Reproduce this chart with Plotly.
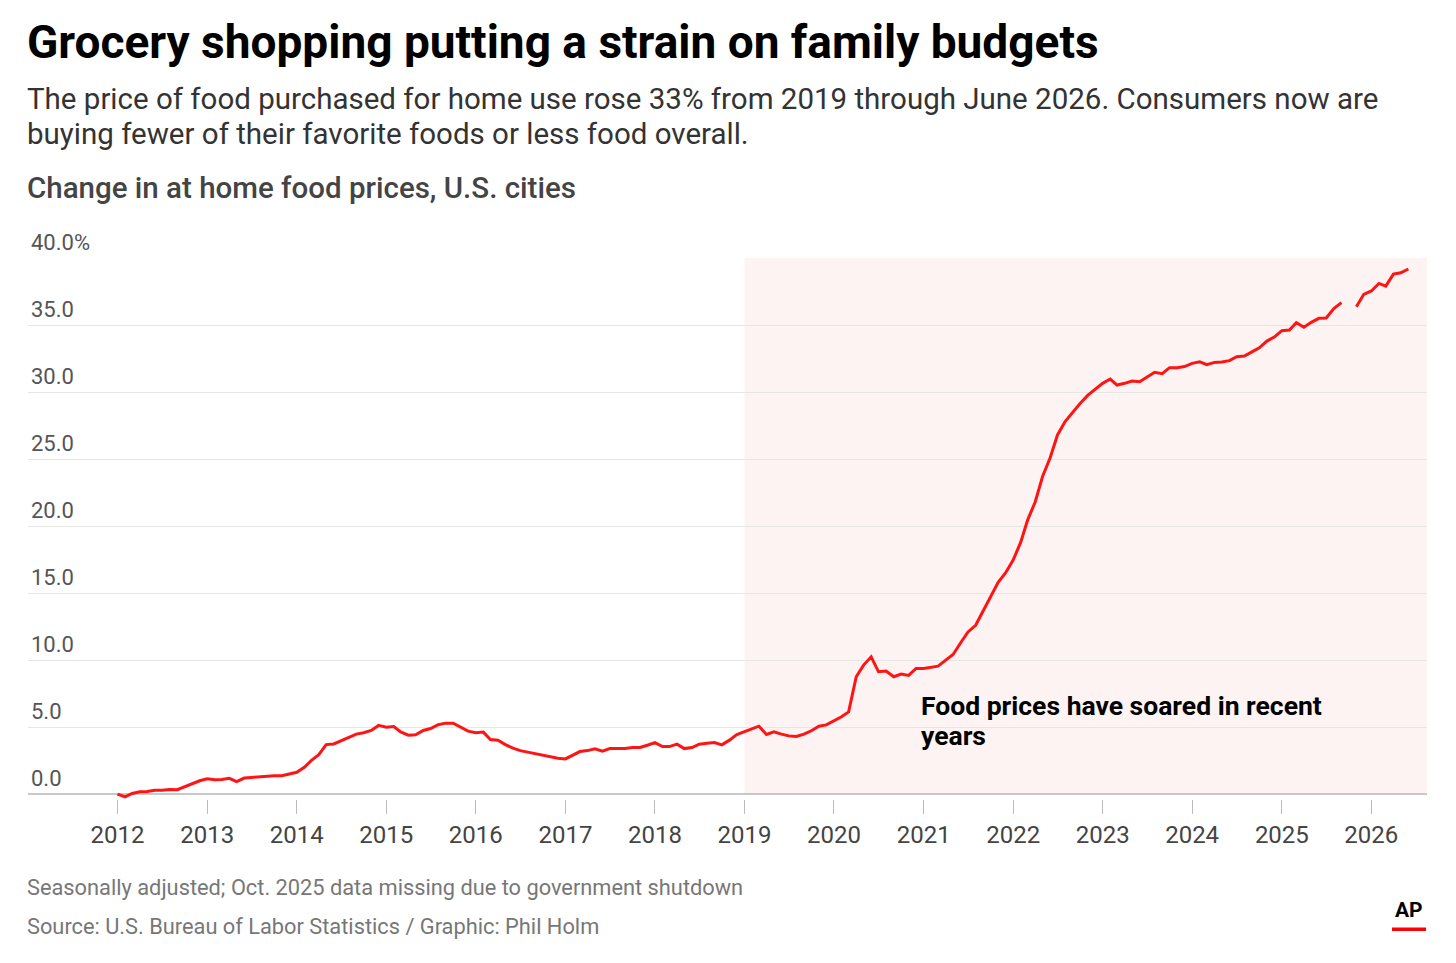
import pandas as pd
import plotly.graph_objects as go

# monthly change in at-home food prices since Jan 2012 (%)
vals_2012 = [0.0, -0.2, 0.05, 0.18, 0.2, 0.3, 0.3, 0.35, 0.33, 0.55, 0.78, 1.0]
vals_2013 = [1.15, 1.08, 1.1, 1.18, 0.93, 1.2, 1.25, 1.3, 1.33, 1.38, 1.38, 1.48]
vals_2014 = [1.63, 2.0, 2.5, 2.95, 3.7, 3.75, 4.0, 4.25, 4.48, 4.58, 4.75, 5.13]
vals_2015 = [5.0, 5.05, 4.65, 4.4, 4.43, 4.75, 4.9, 5.18, 5.3, 5.3, 5.0, 4.7]
vals_2016 = [4.58, 4.63, 4.08, 4.03, 3.7, 3.43, 3.25, 3.13, 3.0, 2.93, 2.8, 2.68]
vals_2017 = [2.63, 2.93, 3.18, 3.25, 3.38, 3.2, 3.4, 3.4, 3.4, 3.48, 3.48, 3.65]
vals_2018 = [3.85, 3.55, 3.55, 3.73, 3.4, 3.48, 3.73, 3.8, 3.85, 3.68, 4.03, 4.45]
vals_2019 = [4.65, 4.85, 5.07, 4.45, 4.65, 4.48, 4.35, 4.3, 4.48, 4.73, 5.07, 5.17]
vals_2020 = [5.45, 5.77, 6.14, 8.76, 9.63, 10.25, 9.13, 9.18, 8.76, 8.96, 8.86, 9.38]
vals_2021 = [9.38, 9.45, 9.55, 10.0, 10.42, 11.3, 12.1, 12.6, 13.7, 14.7, 15.8, 16.5]
vals_2022 = [17.46, 18.8, 20.45, 21.8, 23.7, 25.1, 26.8, 27.8, 28.5, 29.15, 29.75, 30.2]
vals_2023 = [30.65, 30.97, 30.52, 30.65, 30.82, 30.77, 31.14, 31.47, 31.37, 31.82, 31.82, 31.9]
vals_2024 = [32.14, 32.26, 32.04, 32.21, 32.24, 32.34, 32.64, 32.69, 33.0, 33.3, 33.8, 34.1]
vals_2025 = [34.58, 34.63, 35.17, 34.83, 35.2, 35.5, 35.52, 36.22, 36.67, None, 36.37, 37.29]  # Oct. missing
vals_2026 = [37.54, 38.1, 37.9, 38.8, 38.9, 39.18]

values = (vals_2012 + vals_2013 + vals_2014 + vals_2015 + vals_2016 + vals_2017 + vals_2018
          + vals_2019 + vals_2020 + vals_2021 + vals_2022 + vals_2023 + vals_2024 + vals_2025 + vals_2026)
dates = pd.date_range("2012-01-01", periods=len(values), freq="MS")

x_years = ["2012", "2013", "2014", "2015", "2016", "2017", "2018", "2019",
           "2020", "2021", "2022", "2023", "2024", "2025", "2026"]
y_ticks = [0, 5, 10, 15, 20, 25, 30, 35, 40]
y_labels = ["0.0", "5.0", "10.0", "15.0", "20.0", "25.0", "30.0", "35.0", "40.0%"]

title = "Grocery shopping putting a strain on family budgets"
subtitle_1 = "The price of food purchased for home use rose 33% from 2019 through June 2026. Consumers now are"
subtitle_2 = "buying fewer of their favorite foods or less food overall."
chart_head = "Change in at home food prices, U.S. cities"
callout_1 = "Food prices have soared in recent"
callout_2 = "years"
note = "Seasonally adjusted; Oct. 2025 data missing due to government shutdown"
source = "Source: U.S. Bureau of Labor Statistics / Graphic: Phil Holm"

# page has an 8px body margin, so the figure is drawn 8px smaller on each side
OFF = 8
W, H = 1440, 947
ML, MR, MT, MB = 20, 21, 250, 156
FONT = "Roboto, Arial, sans-serif"


def px(x):
    return (x - OFF - ML) / (W - ML - MR)


def py(y):
    return (H - MB - (y - OFF)) / (H - MT - MB)


fig = go.Figure()

# recent-years shading
fig.add_shape(type="rect", xref="x", yref="y", x0="2019-01-01", x1="2026-08-16", y0=0, y1=40,
              fillcolor="#fdf3f2", line_width=0, layer="below")

fig.add_trace(go.Scatter(x=dates, y=values, mode="lines", connectgaps=False,
                         line=dict(color="#ff1414", width=3), hoverinfo="x+y"))

for txt, yv in [(callout_1, 6.65), (callout_2, 4.35)]:
    fig.add_annotation(x="2020-12-12", y=yv, xref="x", yref="y", text=txt, showarrow=False,
                       xanchor="left", yanchor="middle", align="left",
                       font=dict(family=FONT, size=26.5, color="#000000", weight="bold"))

fig.add_annotation(x=px(25), y=py(42.5), xref="paper", yref="paper", text=title, showarrow=False,
                   xanchor="left", yanchor="middle",
                   font=dict(family=FONT, size=46, color="#000000", weight="bold"))
fig.add_annotation(x=px(25), y=py(99), xref="paper", yref="paper", text=subtitle_1, showarrow=False,
                   xanchor="left", yanchor="middle",
                   font=dict(family=FONT, size=29.5, color="#333333"))
fig.add_annotation(x=px(25), y=py(134), xref="paper", yref="paper", text=subtitle_2, showarrow=False,
                   xanchor="left", yanchor="middle",
                   font=dict(family=FONT, size=29.5, color="#333333"))
fig.add_annotation(x=px(25), y=py(188), xref="paper", yref="paper", text=chart_head, showarrow=False,
                   xanchor="left", yanchor="middle",
                   font=dict(family=FONT, size=29.5, color="#444444", weight=500))
fig.add_annotation(x=px(25), y=py(887), xref="paper", yref="paper", text=note, showarrow=False,
                   xanchor="left", yanchor="middle",
                   font=dict(family=FONT, size=21.8, color="#777777"))
fig.add_annotation(x=px(25), y=py(927), xref="paper", yref="paper", text=source, showarrow=False,
                   xanchor="left", yanchor="middle",
                   font=dict(family=FONT, size=21.8, color="#777777"))

# AP logo
fig.add_annotation(x=px(1409), y=py(910), xref="paper", yref="paper", text="AP", showarrow=False,
                   xanchor="center", yanchor="middle",
                   font=dict(family=FONT, size=21, color="#000000", weight="bold"))
fig.add_shape(type="rect", xref="paper", yref="paper", x0=px(1392), x1=px(1426), y0=py(931), y1=py(927.5),
              fillcolor="#ff0000", line_width=0)

fig.update_xaxes(type="date", range=["2011-01-01", "2026-08-16"],
                 tickvals=[y + "-01-01" for y in x_years], ticktext=x_years,
                 ticks="outside", ticklen=14, tickcolor="#bbbbbb", tickwidth=1,
                 showgrid=False, showline=False, zeroline=False, automargin=False,
                 tickfont=dict(family=FONT, size=24, color="#444444"))

fig.update_yaxes(range=[-0.36, 40], tickvals=y_ticks, ticktext=y_labels,
                 ticklabelposition="inside top", ticklabeloverflow="allow", ticks="",
                 ticklabelstandoff=0,
                 showgrid=True, gridcolor="#e6e6e6", gridwidth=1,
                 zeroline=True, zerolinecolor="#c8c8c8", zerolinewidth=1.5,
                 showline=False, automargin=False,
                 tickfont=dict(family=FONT, size=22, color="#555555"))

fig.update_layout(width=W, height=H, margin=dict(l=ML, r=MR, t=MT, b=MB),
                  plot_bgcolor="white", paper_bgcolor="white", showlegend=False)

fig.write_html("out.html")
